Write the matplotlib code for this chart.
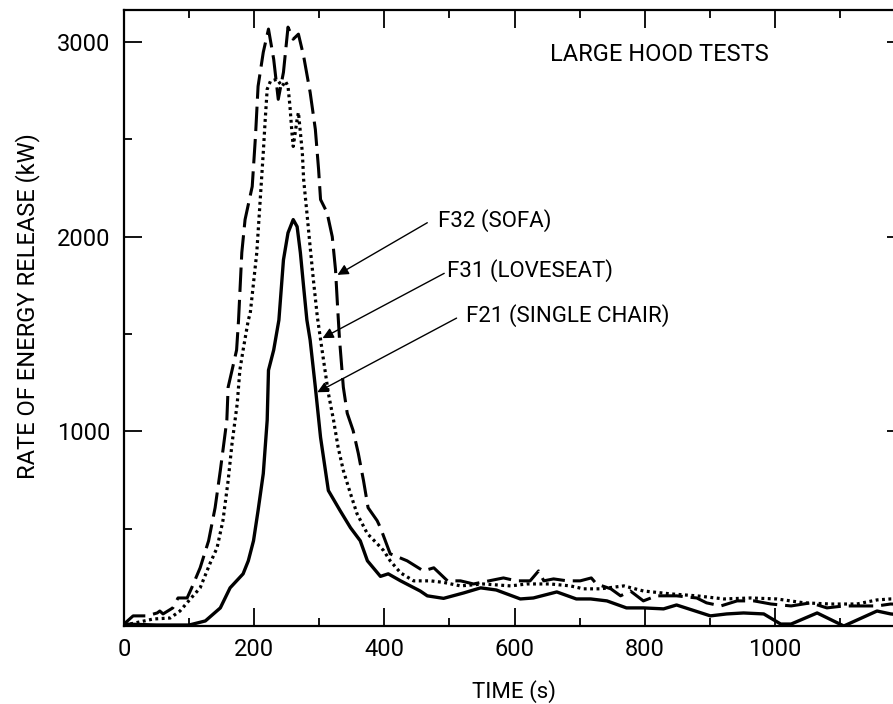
import matplotlib
matplotlib.use("Agg")
import matplotlib.pyplot as plt
from matplotlib.ticker import MultipleLocator

plt.rcParams['font.family'] = ['Roboto', 'DejaVu Sans']

# F21 (single chair) - solid line
t_f21 = [0, 50, 100, 125, 148, 163, 183, 191, 199, 206, 214, 220, 222, 230, 238,
         245, 252, 260, 266, 271, 276, 281, 286, 294, 302, 314, 332, 348, 363, 374,
         394, 406, 425, 455, 466, 491, 522, 548, 572, 609, 629, 665, 695, 717, 742,
         772, 798, 829, 849, 901, 926, 952, 983, 1009, 1025, 1065, 1106, 1157, 1178, 1200]
q_f21 = [10, 5, 5, 26, 93, 196, 268, 335, 438, 593, 783, 1057, 1314, 1418, 1572,
         1881, 2020, 2088, 2052, 1918, 1742, 1572, 1469, 1227, 969, 696, 593, 505, 438, 335,
         255, 268, 232, 180, 155, 142, 170, 196, 185, 139, 144, 175, 139, 139, 129,
         93, 93, 88, 108, 52, 62, 67, 62, 10, 10, 67, 0, 77, 62, 55]

# F31 (loveseat) - dotted line
t_f31 = [0, 9, 45, 71, 86, 102, 117, 132, 143, 152, 160, 166, 174, 178, 183, 191,
         194, 204, 209, 214, 217, 220, 225, 235, 243, 248, 252, 255, 258, 260, 266,
         268, 274, 276, 281, 286, 291, 297, 305, 314, 322, 329, 337, 348, 358, 374,
         389, 399, 409, 425, 445, 471, 491, 517, 552, 594, 619, 655, 686, 706, 732,
         768, 798, 840, 880, 922, 963, 1003, 1045, 1086, 1126, 1157, 1178, 1200]
q_f31 = [5, 10, 36, 41, 77, 139, 196, 320, 402, 541, 747, 938, 1144, 1314, 1418, 1572,
         1608, 1918, 2175, 2433, 2603, 2758, 2799, 2809, 2773, 2799, 2773, 2670, 2536, 2464, 2603,
         2639, 2433, 2294, 2124, 1948, 1778, 1590, 1402, 1196, 1057, 918, 799, 680, 577, 474,
         423, 387, 335, 273, 232, 232, 224, 206, 216, 206, 216, 216, 206, 191, 191,
         206, 180, 165, 155, 139, 144, 139, 119, 113, 113, 134, 139, 140]

# F32 (sofa) - dashed line
t_f32 = [0, 14, 35, 51, 55, 60, 75, 83, 97, 104, 117, 130, 140, 148, 158, 160, 166,
         173, 176, 181, 186, 197, 202, 206, 214, 222, 230, 237, 245, 252, 260, 268,
         276, 286, 294, 299, 302, 312, 320, 325, 328, 331, 337, 343, 352, 360, 368,
         375, 389, 394, 409, 435, 460, 476, 497, 517, 537, 583, 603, 624, 637, 645,
         660, 681, 701, 718, 726, 748, 763, 778, 798, 818, 849, 880, 895, 917, 942,
         968, 994, 1025, 1055, 1080, 1106, 1132, 1157, 1178, 1200]
q_f32 = [10, 52, 52, 67, 77, 62, 93, 144, 144, 196, 299, 438, 608, 799, 1057, 1227, 1314,
         1418, 1572, 1918, 2088, 2258, 2515, 2773, 2948, 3067, 2912, 2706, 2845, 3077, 3015, 3041,
         2928, 2742, 2552, 2345, 2191, 2124, 2000, 1830, 1650, 1480, 1227, 1093, 1005, 887, 747,
         608, 541, 505, 371, 335, 283, 299, 232, 232, 216, 247, 232, 232, 283, 232,
         242, 232, 232, 247, 216, 191, 155, 180, 129, 155, 155, 144, 119, 103, 129,
         129, 113, 103, 119, 93, 103, 103, 103, 113, 110]

x_ticklabels = ['0', '200', '400', '600', '800', '1000']
y_ticklabels = ['1000', '2000', '3000']

fig = plt.figure(figsize=(8.93, 7.04), dpi=100)
# right spine of the original sits just past the crop edge
ax = fig.add_axes([124 / 893, 78 / 704, 781 / 893, 616 / 704])

ax.plot(t_f21, q_f21, color='black', lw=2.4, solid_joinstyle='round')
ax.plot(t_f31, q_f31, color='black', lw=2.3, dashes=(0.9, 1.1), dash_capstyle='butt')
ax.plot(t_f32, q_f32, color='black', lw=2.2, dashes=(8, 2.6))

ax.set_xlim(0, 1200)
ax.set_ylim(0, 3165)

ax.xaxis.set_minor_locator(MultipleLocator(100))
ax.yaxis.set_minor_locator(MultipleLocator(500))
ax.set_xticks([0, 200, 400, 600, 800, 1000, 1200])
ax.set_xticklabels(x_ticklabels + [''])
ax.set_yticks([1000, 2000, 3000])
ax.set_yticklabels(y_ticklabels)

ax.tick_params(which='both', direction='in', top=True, right=True, width=1.3, labelsize=17)
ax.tick_params(which='major', length=13)
ax.tick_params(which='minor', length=6)
ax.tick_params(axis='x', pad=9)
ax.tick_params(axis='y', pad=10)
for s in ax.spines.values():
    s.set_linewidth(1.6)

ax.set_xlabel('TIME (s)', fontsize=16, labelpad=13)
ax.set_ylabel('RATE OF ENERGY RELEASE (kW)', fontsize=17, labelpad=12)
ax.yaxis.label.set_y(0.52)

ax.text(655, 2935, 'LARGE HOOD TESTS', fontsize=17, va='center', ha='left')

# labels with arrows
arr = dict(arrowstyle='-|>', color='black', lw=1.0, mutation_scale=16,
           shrinkA=0, shrinkB=0)
ax.annotate('', xy=(328, 1804), xytext=(466, 2072), arrowprops=arr)
ax.annotate('', xy=(305, 1479), xytext=(492, 1812), arrowprops=arr)
ax.annotate('', xy=(297, 1201), xytext=(511, 1582), arrowprops=arr)
ax.text(482, 2085, 'F32 (SOFA)', fontsize=16, va='center', ha='left')
ax.text(497, 1827, 'F31 (LOVESEAT)', fontsize=16, va='center', ha='left')
ax.text(526, 1595, 'F21 (SINGLE CHAIR)', fontsize=16, va='center', ha='left')

fig.savefig('out.png', dpi=100)
